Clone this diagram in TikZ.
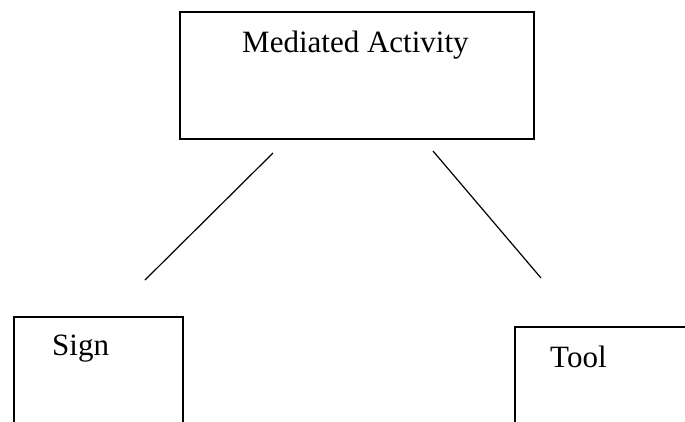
\documentclass[tikz,border=0pt]{standalone}
\usepackage{fontspec}
\setmainfont{Liberation Serif}
\usepackage{tikz}
\usetikzlibrary{calc}
\tikzset{
  partbox/.style={draw, line width=2.2pt, rectangle, anchor=north west, inner sep=0pt},
  parttext/.style={anchor=base west, inner sep=0pt, font=\fontsize{31}{37}\selectfont},
  link/.style={line width=1.2pt}
}

\begin{document}
\begin{tikzpicture}[x=1pt, y=-1pt]
        \useasboundingbox (0,0) rectangle (685,421);
        \clip (0,0) rectangle (685,421);
        % top box
        \node[partbox, minimum width=354pt, minimum height=127pt] (act) at (179,11) {};
        \node[parttext] (acttext) at (242,52) {Mediated Activity};
        % bottom boxes
        \node[partbox, minimum width=169pt, minimum height=150pt] (sign) at (13,316) {};
        \node[parttext] (signtext) at (52,355) {Sign};
        \node[partbox, minimum width=200pt, minimum height=150pt] (tool) at (514,326) {};
        \node[parttext] (tooltext) at (550,367) {Tool};
        % links
        \coordinate (actleft) at (273,153);
        \coordinate (signend) at (145,280);
        \coordinate (actright) at (433,151);
        \coordinate (toolend) at (541,278);
        \draw[link] (actleft) -- (signend);
        \draw[link] (actright) -- (toolend);
\end{tikzpicture}
\end{document}
